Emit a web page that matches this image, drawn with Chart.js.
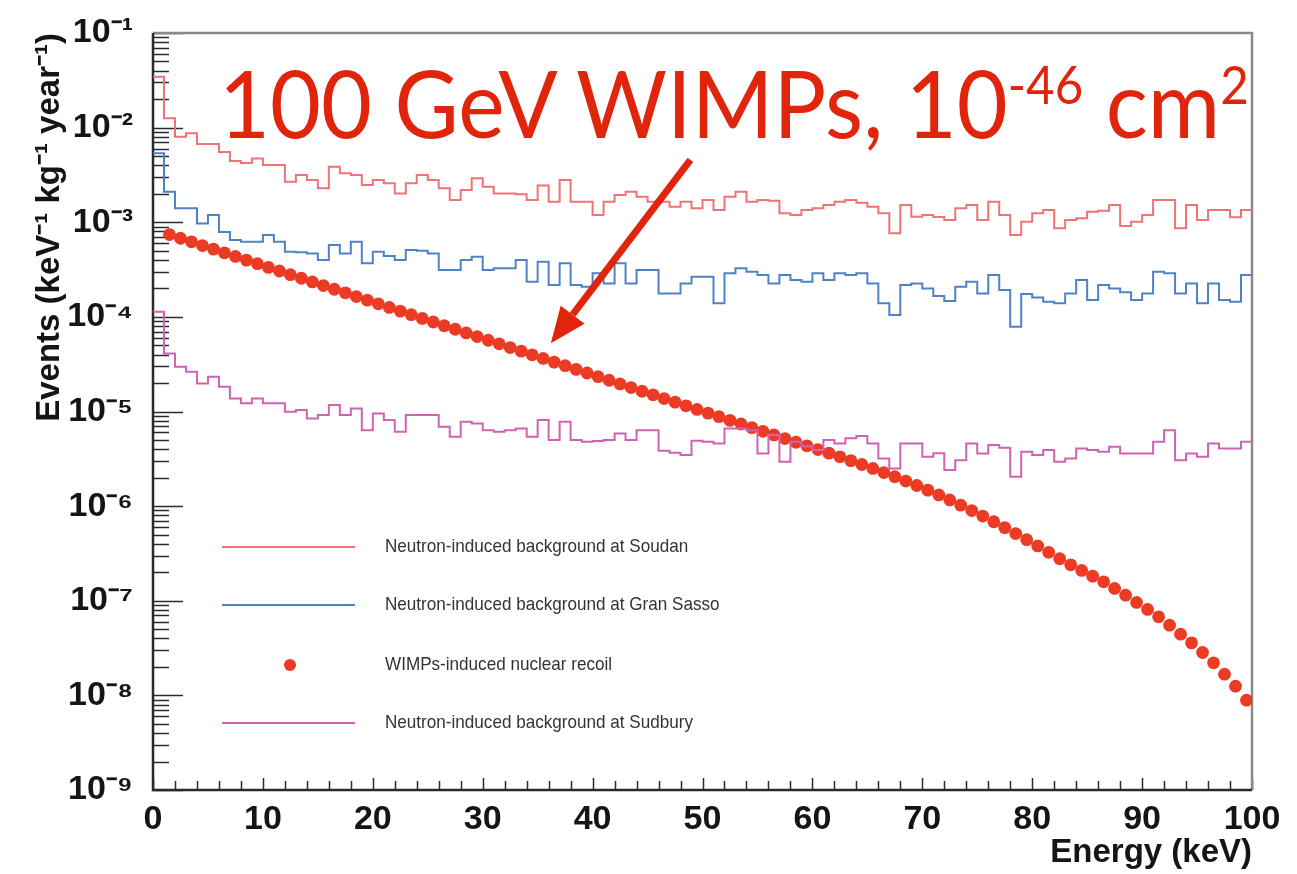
<!DOCTYPE html>
<html>
<head>
<meta charset="utf-8">
<title>WIMP recoil vs neutron background</title>
<script src="https://cdn.jsdelivr.net/npm/chart.js@4.4.1/dist/chart.umd.min.js"></script>
<style>
  html, body { margin: 0; padding: 0; background: #fff; }
  #wrap { position: relative; width: 1297px; height: 874px; overflow: hidden; }
  #chart { position: absolute; left: 0; top: 0; }
  #note {
    position: absolute; left: 219px; top: 55px;
    font-family: Lato, "Open Sans", sans-serif; font-size: 94px;
    color: #e0250c; white-space: nowrap; line-height: 1;
    transform-origin: 0 0;
  }
  #note sup { font-size: 0.56em; vertical-align: 0.64em; line-height: 0; }
</style>
</head>
<body>
<div id="wrap">
  <canvas id="chart" width="1297" height="874"></canvas>
  <div id="note">100 GeV WIMPs, 10<sup>-46</sup> cm<sup>2</sup></div>
</div>
<script>
// log10 of the rate per 1 keV bin (bins 0-1, 1-2, ... 99-100 keV)
const soudanLog = [
  -1.462, -1.902, -2.096, -2.060, -2.173, -2.173, -2.258, -2.353, -2.374, -2.325,
  -2.395, -2.395, -2.572, -2.501, -2.554, -2.642, -2.413, -2.483, -2.501, -2.607,
  -2.554, -2.589, -2.695, -2.589, -2.501, -2.554, -2.642, -2.765, -2.660, -2.536,
  -2.625, -2.695, -2.695, -2.705, -2.765, -2.612, -2.783, -2.554, -2.783, -2.783,
  -2.924, -2.783, -2.712, -2.678, -2.730, -2.783, -2.783, -2.836, -2.783, -2.853,
  -2.765, -2.871, -2.730, -2.678, -2.783, -2.765, -2.773, -2.906, -2.924, -2.871,
  -2.853, -2.818, -2.783, -2.765, -2.794, -2.836, -2.906, -3.117, -2.818, -2.942,
  -2.924, -2.945, -2.977, -2.853, -2.818, -2.977, -2.783, -2.924, -3.135, -2.995,
  -2.906, -2.871, -3.064, -2.977, -2.959, -2.889, -2.878, -2.818, -3.040, -2.995,
  -2.924, -2.765, -2.765, -3.064, -2.818, -2.977, -2.871, -2.871, -2.948, -2.871
];
const gransassoLog = [
  -2.272, -2.678, -2.853, -2.853, -3.012, -2.924, -3.104, -3.188, -3.206, -3.206,
  -3.135, -3.206, -3.312, -3.318, -3.329, -3.400, -3.241, -3.329, -3.206, -3.434,
  -3.312, -3.357, -3.400, -3.294, -3.301, -3.329, -3.505, -3.505, -3.400, -3.365,
  -3.505, -3.487, -3.487, -3.400, -3.629, -3.418, -3.664, -3.434, -3.664, -3.682,
  -3.540, -3.646, -3.434, -3.646, -3.505, -3.505, -3.752, -3.752, -3.646, -3.576,
  -3.576, -3.857, -3.540, -3.487, -3.523, -3.558, -3.646, -3.558, -3.611, -3.629,
  -3.540, -3.611, -3.540, -3.558, -3.540, -3.646, -3.857, -3.981, -3.664, -3.646,
  -3.699, -3.780, -3.833, -3.682, -3.629, -3.752, -3.558, -3.717, -4.105, -3.759,
  -3.794, -3.840, -3.857, -3.752, -3.611, -3.822, -3.664, -3.699, -3.741, -3.822,
  -3.752, -3.523, -3.540, -3.752, -3.646, -3.857, -3.646, -3.822, -3.840, -3.558
];
const sudburyLog = [
  -3.946, -4.386, -4.527, -4.580, -4.703, -4.633, -4.739, -4.862, -4.914, -4.862,
  -4.914, -4.914, -5.003, -4.985, -5.073, -5.038, -4.932, -5.038, -4.967, -5.197,
  -5.020, -5.091, -5.215, -5.038, -5.038, -5.038, -5.162, -5.267, -5.109, -5.126,
  -5.197, -5.215, -5.197, -5.179, -5.267, -5.091, -5.302, -5.109, -5.302, -5.320,
  -5.313, -5.302, -5.232, -5.302, -5.197, -5.197, -5.415, -5.437, -5.461, -5.310,
  -5.320, -5.337, -5.179, -5.179, -5.197, -5.443, -5.249, -5.532, -5.320, -5.366,
  -5.408, -5.302, -5.337, -5.284, -5.260, -5.337, -5.496, -5.602, -5.337, -5.337,
  -5.479, -5.440, -5.619, -5.514, -5.337, -5.443, -5.355, -5.384, -5.690, -5.426,
  -5.461, -5.408, -5.532, -5.496, -5.390, -5.408, -5.426, -5.373, -5.443, -5.443,
  -5.443, -5.320, -5.197, -5.514, -5.443, -5.479, -5.337, -5.390, -5.390, -5.320
];
// log10 of the WIMP recoil rate at bin centres 1.5, 2.5, ... 99.5 keV
const wimpLog = [
  -3.130, -3.169, -3.207, -3.246, -3.284, -3.323, -3.361, -3.400, -3.438, -3.477,
  -3.515, -3.554, -3.592, -3.631, -3.669, -3.708, -3.746, -3.785, -3.823, -3.862,
  -3.900, -3.939, -3.977, -4.016, -4.054, -4.093, -4.131, -4.170, -4.208, -4.247,
  -4.285, -4.324, -4.362, -4.401, -4.439, -4.478, -4.516, -4.555, -4.593, -4.632,
  -4.670, -4.709, -4.747, -4.786, -4.824, -4.863, -4.901, -4.940, -4.978, -5.017,
  -5.055, -5.094, -5.132, -5.171, -5.209, -5.248, -5.286, -5.325, -5.363, -5.402,
  -5.440, -5.479, -5.519, -5.560, -5.602, -5.645, -5.689, -5.735, -5.782, -5.831,
  -5.882, -5.935, -5.990, -6.047, -6.105, -6.165, -6.227, -6.290, -6.355, -6.421,
  -6.488, -6.556, -6.620, -6.680, -6.740, -6.800, -6.870, -6.941, -7.018, -7.092,
  -7.170, -7.258, -7.353, -7.445, -7.547, -7.656, -7.776, -7.903, -8.051
];
const wimpFirstEnergy = 1.5;   // keV, first WIMP point, 1 keV apart
const binWidth = 1;            // keV

const xTickValues = [0, 10, 20, 30, 40, 50, 60, 70, 80, 90, 100];
const yDecades = [-9, -8, -7, -6, -5, -4, -3, -2, -1];

const legendLabels = [
  'Neutron-induced background at Soudan',
  'Neutron-induced background at Gran Sasso',
  'WIMPs-induced nuclear recoil',
  'Neutron-induced background at Sudbury'
];

const colSoudan = '#ef7373';
const colGranSasso = '#4f82c2';
const colWimp = '#ec3b24';
const colSudbury = '#d062b4';
const colNote = '#e0250c';

// histogram: one point per bin low edge plus the upper edge of the last bin
function histPoints(logs) {
  const pts = logs.map((v, i) => ({ x: i * binWidth, y: Math.pow(10, v) }));
  pts.push({ x: logs.length * binWidth, y: Math.pow(10, logs[logs.length - 1]) });
  return pts;
}

const wimpPoints = wimpLog.map((v, i) => ({ x: wimpFirstEnergy + i, y: Math.pow(10, v) }));

const supMap = { '-': '\u207B', '0': '\u2070', '1': '\u00B9', '2': '\u00B2', '3': '\u00B3',
  '4': '\u2074', '5': '\u2075', '6': '\u2076', '7': '\u2077', '8': '\u2078', '9': '\u2079' };
function sup(s) {
  return String(s).split('').map(c => supMap[c] || c).join('');
}

/**
 * Frame and inward ticks (ROOT style), legend and arrow
 */
const frameTicks = {
  id: 'frameTicks',
  beforeDatasetsDraw(chart) {
    const { ctx, chartArea: a, scales } = chart;
    const x = scales.x, y = scales.y;
    ctx.save();
    ctx.strokeStyle = '#2a2a2a';
    ctx.lineWidth = 1.5;
    // y ticks: 1..9 per decade
    yDecades.forEach(d => {
      for (let m = 1; m <= 9; m++) {
        if (d === -1 && m > 1) break;
        const py = Math.round(y.getPixelForValue(m * Math.pow(10, d))) + 0.5;
        const len = m === 1 ? 30 : 16;
        ctx.beginPath();
        ctx.moveTo(a.left, py);
        ctx.lineTo(a.left + len, py);
        ctx.stroke();
      }
    });
    // x ticks every 2 keV
    for (let e = 0; e <= 100; e += 2) {
      const px = Math.round(x.getPixelForValue(e)) + 0.5;
      const len = e % 10 === 0 ? 12 : 9;
      ctx.beginPath();
      ctx.moveTo(px, a.bottom);
      ctx.lineTo(px, a.bottom - len);
      ctx.stroke();
    }
    // frame
    ctx.strokeStyle = '#8a8a8a';
    ctx.lineWidth = 2.5;
    ctx.beginPath();
    ctx.moveTo(a.left, a.top);
    ctx.lineTo(a.right, a.top);
    ctx.lineTo(a.right, a.bottom);
    ctx.stroke();
    ctx.strokeStyle = '#2a2a2a';
    ctx.beginPath();
    ctx.moveTo(a.left, a.top);
    ctx.lineTo(a.left, a.bottom);
    ctx.lineTo(a.right, a.bottom);
    ctx.stroke();
    ctx.restore();
  },
  afterDatasetsDraw(chart) {
    const { ctx, chartArea: a, scales } = chart;
    ctx.save();
    // legend inside the frame
    const rows = [514, 572, 632, 690];
    const colors = [colSoudan, colGranSasso, colWimp, colSudbury];
    rows.forEach((dy, i) => {
      const ly = a.top + dy;
      if (i === 2) {
        ctx.fillStyle = colWimp;
        ctx.beginPath();
        ctx.arc(a.left + 137, ly, 6, 0, Math.PI * 2);
        ctx.fill();
      } else {
        ctx.strokeStyle = colors[i];
        ctx.lineWidth = 2;
        ctx.beginPath();
        ctx.moveTo(a.left + 69, ly);
        ctx.lineTo(a.left + 202, ly);
        ctx.stroke();
      }
      ctx.save();
      ctx.translate(a.left + 232, ly);
      ctx.scale(0.9, 1);
      ctx.fillStyle = '#333';
      ctx.font = '19px "Liberation Sans", Arial, sans-serif';
      ctx.textBaseline = 'middle';
      ctx.fillText(legendLabels[i], 0, 0);
      ctx.restore();
    });
    // arrow from the note down to the WIMP curve
    const x = scales.x, y = scales.y;
    const tx = x.getPixelForValue(48.9), ty = y.getPixelForValue(Math.pow(10, -2.34));
    const hx = x.getPixelForValue(36.2), hy = y.getPixelForValue(Math.pow(10, -4.28));
    const ang = Math.atan2(hy - ty, hx - tx);
    const headLen = 36, headW = 15;
    const bx = hx - headLen * Math.cos(ang), by = hy - headLen * Math.sin(ang);
    ctx.strokeStyle = colNote;
    ctx.fillStyle = colNote;
    ctx.lineWidth = 7;
    ctx.beginPath();
    ctx.moveTo(tx, ty);
    ctx.lineTo(bx, by);
    ctx.stroke();
    ctx.beginPath();
    ctx.moveTo(hx, hy);
    ctx.lineTo(bx + headW * Math.sin(ang), by - headW * Math.cos(ang));
    ctx.lineTo(bx - headW * Math.sin(ang), by + headW * Math.cos(ang));
    ctx.closePath();
    ctx.fill();
    ctx.restore();
  }
};

const tickFont = { family: '"Liberation Sans", Arial, sans-serif', size: 34, weight: 'bold' };
const titleFont = { family: '"Liberation Sans", Arial, sans-serif', size: 33, weight: 'bold' };

new Chart(document.getElementById('chart'), {
  type: 'scatter',
  data: {
    datasets: [
      {
        label: legendLabels[3], data: histPoints(sudburyLog), showLine: true, stepped: 'before',
        borderColor: colSudbury, borderWidth: 2, pointRadius: 0, order: 0
      },
      {
        label: legendLabels[2], data: wimpPoints, showLine: false,
        backgroundColor: colWimp, borderWidth: 0, pointRadius: 6.4, order: 1
      },
      {
        label: legendLabels[1], data: histPoints(gransassoLog), showLine: true, stepped: 'before',
        borderColor: colGranSasso, borderWidth: 2, pointRadius: 0, order: 2
      },
      {
        label: legendLabels[0], data: histPoints(soudanLog), showLine: true, stepped: 'before',
        borderColor: colSoudan, borderWidth: 2, pointRadius: 0, order: 3
      }
    ]
  },
  options: {
    responsive: false,
    animation: false,
    devicePixelRatio: 1,
    layout: { padding: { top: 33, right: 45, left: 0, bottom: 0 } },
    plugins: { legend: { display: false }, tooltip: { enabled: false } },
    scales: {
      x: {
        type: 'linear', min: 0, max: 100,
        afterBuildTicks: s => { s.ticks = xTickValues.map(v => ({ value: v })); },
        afterFit: s => { s.height = 84; },
        grid: { display: false }, border: { display: false },
        ticks: { font: tickFont, color: '#151515', padding: 1, maxRotation: 0 },
        title: { display: true, text: 'Energy (keV)', align: 'end', font: titleFont, color: '#151515', padding: { top: 0, bottom: 1 } }
      },
      y: {
        type: 'logarithmic', min: 1e-9, max: 1e-1,
        afterBuildTicks: s => { s.ticks = yDecades.map(d => ({ value: Math.pow(10, d) })); },
        afterFit: s => { s.width = 153; },
        grid: { display: false }, border: { display: false },
        ticks: {
          font: tickFont, color: '#151515', padding: 12,
          callback: v => '10' + sup(Math.round(Math.log10(v)))
        },
        title: {
          display: true, text: 'Events (keV' + sup(-1) + ' kg' + sup(-1) + ' year' + sup(-1) + ')',
          align: 'end', font: titleFont, color: '#151515', padding: { top: 30, bottom: 0 }
        }
      }
    }
  },
  plugins: [frameTicks]
});

// squeeze the big note to the width it has in the figure
const note = document.getElementById('note');
note.style.transform = 'scaleX(' + (1030 / note.scrollWidth).toFixed(3) + ')';
</script>
</body>
</html>
